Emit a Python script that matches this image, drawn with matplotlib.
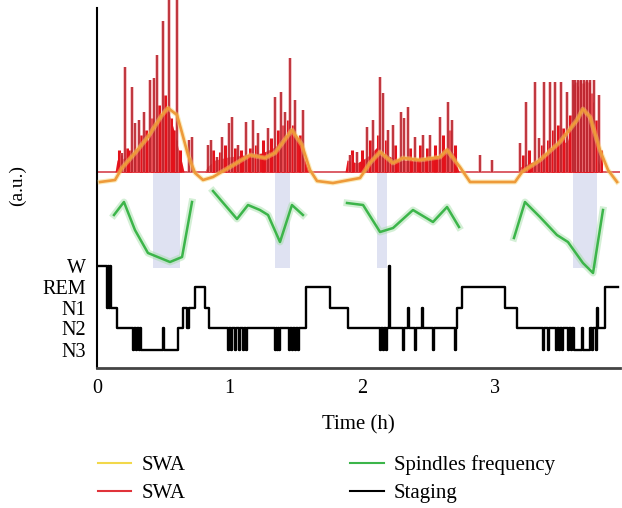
"""Sleep recording overview: SWA, spindle frequency and hypnogram on one time axis."""
import matplotlib

matplotlib.use("Agg")
import matplotlib.pyplot as plt
from matplotlib.lines import Line2D

plt.rcParams["font.family"] = ["Liberation Serif", "DejaVu Serif"]

# --- data (time in hours, amplitudes in arbitrary units) ---
stage_names = ["N3", "N2", "N1", "REM", "W"]
stage_levels = [18, 40, 60, 81, 102]  # vertical slot of each stage on the shared a.u. axis

hyp_t = [0.000, 0.075, 0.083, 0.090, 0.098, 0.106, 0.151, 0.271, 0.279, 0.294, 0.301,
         0.317, 0.324, 0.332, 0.497, 0.505, 0.610, 0.648, 0.678, 0.693, 0.739, 0.814,
         0.844, 0.987, 0.995, 1.010, 1.017, 1.040, 1.047, 1.070, 1.078, 1.100, 1.108,
         1.123, 1.130, 1.341, 1.349, 1.356, 1.364, 1.372, 1.379, 1.447, 1.454, 1.469,
         1.477, 1.492, 1.500, 1.515, 1.522, 1.575, 1.756, 1.891, 2.133, 2.140, 2.155,
         2.163, 2.178, 2.185, 2.200, 2.208, 2.306, 2.313, 2.344, 2.351, 2.396, 2.404,
         2.449, 2.457, 2.532, 2.540, 2.698, 2.706, 2.713, 2.751, 3.075, 3.165, 3.361,
         3.368, 3.399, 3.406, 3.459, 3.466, 3.482, 3.489, 3.504, 3.512, 3.549, 3.557,
         3.572, 3.580, 3.595, 3.655, 3.662, 3.715, 3.730, 3.738, 3.760, 3.768, 3.775,
         3.828, 3.926]
hyp_stage = ["W", "N1", "W", "N1", "W", "N1", "N2", "N3", "N2", "N3", "N2",
             "N3", "N2", "N3", "N2", "N3", "N2", "N1", "N2", "N1", "REM", "N1",
             "N2", "N3", "N2", "N3", "N2", "N3", "N2", "N3", "N2", "N3", "N2",
             "N3", "N2", "N3", "N2", "N3", "N2", "N3", "N2", "N3", "N2", "N3",
             "N2", "N3", "N2", "N3", "N2", "REM", "N1", "N2", "N3", "N2", "N3",
             "N2", "N3", "N2", "W", "N2", "N3", "N2", "N1", "N2", "N3", "N2",
             "N1", "N2", "N3", "N2", "N3", "N2", "N1", "REM", "N1", "N2", "N3",
             "N2", "N3", "N2", "N3", "N2", "N3", "N2", "N3", "N2", "N3", "N2",
             "N3", "N2", "N3", "N2", "N3", "N2", "N3", "N2", "N3", "N1", "N2",
             "REM", "REM"]

swa_t = [0.023, 0.136, 0.188, 0.286, 0.384, 0.490, 0.535, 0.603, 0.641, 0.686, 0.739,
         0.799, 0.874, 1.002, 1.153, 1.266, 1.341, 1.469, 1.545, 1.605, 1.658, 1.778,
         1.982, 2.057, 2.133, 2.231, 2.306, 2.434, 2.585, 2.638, 2.735, 2.811, 3.150,
         3.203, 3.338, 3.489, 3.617, 3.662, 3.715, 3.790, 3.851, 3.919]
swa_smooth = [186, 188, 200, 215, 231, 253, 260, 253, 235, 213, 195,
              188, 191, 201, 213, 210, 215, 238, 223, 198, 187, 185,
              190, 205, 216, 205, 210, 208, 211, 218, 201, 186, 186,
              196, 208, 226, 248, 259, 251, 218, 198, 186]

swa_baseline = 196
swa_body_t = [
    [0.136, 0.151, 0.234, 0.309, 0.384, 0.437, 0.490, 0.528, 0.573, 0.610, 0.641, 0.656],
    [0.814, 0.829, 0.889, 0.987, 1.115, 1.243, 1.341, 1.417, 1.469, 1.515, 1.567, 1.598],
    [1.869, 1.884, 1.959, 2.035, 2.110, 2.155, 2.261, 2.411, 2.562, 2.638, 2.683, 2.728],
    [3.173, 3.188, 3.316, 3.391, 3.466, 3.542, 3.580, 3.617, 3.655, 3.693, 3.738, 3.775, 3.806],
]
swa_body_v = [
    [196, 208, 211, 221, 228, 241, 255, 261, 241, 221, 205, 196],
    [196, 201, 208, 211, 213, 215, 221, 231, 238, 228, 208, 196],
    [196, 208, 205, 211, 221, 215, 208, 208, 211, 221, 215, 196],
    [196, 201, 208, 213, 225, 226, 241, 261, 265, 255, 231, 208, 196],
]

# tall isolated SWA peaks
spike_t = [0.188, 0.211, 0.264, 0.286, 0.317, 0.354, 0.399, 0.430, 0.452, 0.497, 0.543,
           0.603, 0.693, 0.716,
           0.836, 0.859, 0.904, 0.942, 0.995, 1.017, 1.063, 1.123, 1.176, 1.213, 1.289,
           1.341, 1.387, 1.417, 1.454, 1.492, 1.552,
           1.907, 1.959, 2.035, 2.080, 2.133, 2.155, 2.193, 2.231, 2.291, 2.313, 2.344,
           2.396, 2.457, 2.509, 2.585, 2.645, 2.675, 2.886, 2.977, 3.188,
           3.233, 3.301, 3.331, 3.369, 3.414, 3.451, 3.497, 3.542, 3.587, 3.602, 3.625,
           3.647, 3.670, 3.693, 3.715, 3.745, 3.783]
spike_v = [215, 301, 281, 245, 248, 256, 288, 290, 313, 347, 368,
           368, 228, 231,
           223, 228, 211, 231, 245, 251, 223, 246, 248, 235, 240,
           271, 276, 256, 310, 268, 258,
           213, 216, 241, 248, 291, 275, 238, 243, 256, 250, 261,
           231, 233, 233, 251, 266, 248, 213, 208, 225,
           266, 286, 230, 286, 286, 286, 286, 276, 288, 288, 288,
           288, 288, 288, 288, 288, 273]

# short peaks that roughen the top of the dense SWA bursts
burst_t = [0.166, 0.181, 0.226, 0.249, 0.332, 0.369, 0.414, 0.445, 0.467, 0.482, 0.513,
           0.558, 0.580, 0.595, 0.625,
           0.874, 0.927, 0.965, 1.040, 1.085, 1.153, 1.198, 1.251, 1.311, 1.364, 1.402,
           1.439, 1.477, 1.530,
           1.922, 1.997, 2.057, 2.118, 2.178, 2.246, 2.359, 2.434, 2.487, 2.547, 2.607,
           2.660, 2.698,
           3.210, 3.255, 3.353, 3.399, 3.436, 3.474, 3.512, 3.564, 3.595, 3.610, 3.632,
           3.640, 3.662, 3.678, 3.685, 3.700, 3.708, 3.723, 3.730, 3.760, 3.798]
burst_v = [218, 213, 220, 218, 233, 238, 250, 246, 263, 253, 273,
           250, 238, 228, 218,
           218, 216, 223, 220, 218, 220, 223, 228, 230, 238, 243,
           248, 243, 233,
           218, 218, 228, 233, 228, 223, 220, 223, 220, 223, 233,
           238, 223,
           213, 218, 223, 228, 238, 243, 240, 253, 284, 286, 282,
           288, 285, 280, 287, 283, 286, 275, 266, 248, 218]

spindle_t = [
    [0.128, 0.203, 0.286, 0.384, 0.550, 0.641, 0.716],
    [0.874, 1.055, 1.138, 1.228, 1.289, 1.379, 1.469, 1.552],
    [1.884, 2.005, 2.133, 2.231, 2.381, 2.532, 2.638, 2.728],
    [3.142, 3.225, 3.338, 3.466, 3.549, 3.662, 3.738, 3.813],
]
spindle_v = [
    [153, 166, 138, 115, 106, 111, 166],
    [177, 149, 163, 158, 153, 126, 163, 153],
    [165, 163, 136, 140, 158, 146, 161, 141],
    [130, 166, 151, 133, 126, 105, 95, 158],
]

band_start = [0.422, 1.341, 2.110, 3.587]
band_end = [0.625, 1.454, 2.185, 3.768]
band_low, band_high = 100, 196

x_ticks = [0, 1, 2, 3]

# --- figure ---
fig = plt.figure(figsize=(6.22, 5.08), dpi=100)
ax = fig.add_axes([97 / 622, 1 - 368 / 508, 523 / 622, 368 / 508])

ax.bar(band_start, band_high - band_low,
       width=[e - s for s, e in zip(band_start, band_end)],
       bottom=band_low, align="edge", color="#dfe2f2", zorder=1)

ax.axhline(swa_baseline, color="#d9505a", lw=1.3, zorder=2)
for bt, bv in zip(swa_body_t, swa_body_v):
    ax.fill_between(bt, swa_baseline, bv, color="#e8161e", lw=0, zorder=3)
ax.vlines(burst_t, swa_baseline, burst_v, color="#e3121b", lw=2.2, zorder=3)
ax.vlines(spike_t, swa_baseline, spike_v, color="#e98a90", lw=2.6, alpha=0.6,
          zorder=3, clip_on=False)
ax.vlines(spike_t, swa_baseline, spike_v, color="#b81f28", lw=1.2, zorder=3,
          clip_on=False)

ax.plot(swa_t, swa_smooth, color="#f7d36a", lw=3.5, alpha=0.45, zorder=4)
ax.plot(swa_t, swa_smooth, color="#ee9a3a", lw=1.9, zorder=5)

for st, sv in zip(spindle_t, spindle_v):
    ax.plot(st, sv, color="#9fdca3", lw=5, alpha=0.45, zorder=4)
    ax.plot(st, sv, color="#3cb54a", lw=1.8, zorder=5)

hyp_y = [stage_levels[stage_names.index(s)] for s in hyp_stage]
ax.step(hyp_t, hyp_y, where="post", color="black", lw=1.7, zorder=5)

ax.set_xlim(0, 523 / 132.7)
ax.set_ylim(0, 368)
ax.set_xticks(x_ticks)
ax.set_xticklabels([str(t) for t in x_ticks])
ax.set_yticks(stage_levels)
ax.set_yticklabels(stage_names)
ax.tick_params(axis="both", length=0, labelsize=14.5)
ax.tick_params(axis="x", pad=8)
ax.tick_params(axis="y", pad=8)

for side in ("top", "right"):
    ax.spines[side].set_visible(False)
ax.spines["left"].set_bounds(0, 360)
ax.spines["left"].set_linewidth(1.5)
ax.spines["bottom"].set_linewidth(2.0)
ax.spines["bottom"].set_color("#444444")

ax.set_xlabel("Time (h)", fontsize=15, labelpad=12)
fig.text(17 / 622, 1 - 185 / 508, "(a.u.)", rotation=90, fontsize=14,
         ha="center", va="center")

handles = [
    Line2D([], [], color="#f2d84b", lw=1.5),
    Line2D([], [], color="#e0333a", lw=1.5),
    Line2D([], [], color="#3cb54a", lw=1.5),
    Line2D([], [], color="black", lw=1.5),
]
labels = ["SWA", "SWA", "Spindles frequency", "Staging"]
fig.legend(handles, labels, ncol=2, loc="upper left",
           bbox_to_anchor=(98 / 622, 1 - 455 / 508), frameon=False,
           fontsize=15, handlelength=1.6, handletextpad=0.5,
           columnspacing=7.9, labelspacing=0.4, borderpad=0, borderaxespad=0)

fig.savefig("out.png", dpi=100)
